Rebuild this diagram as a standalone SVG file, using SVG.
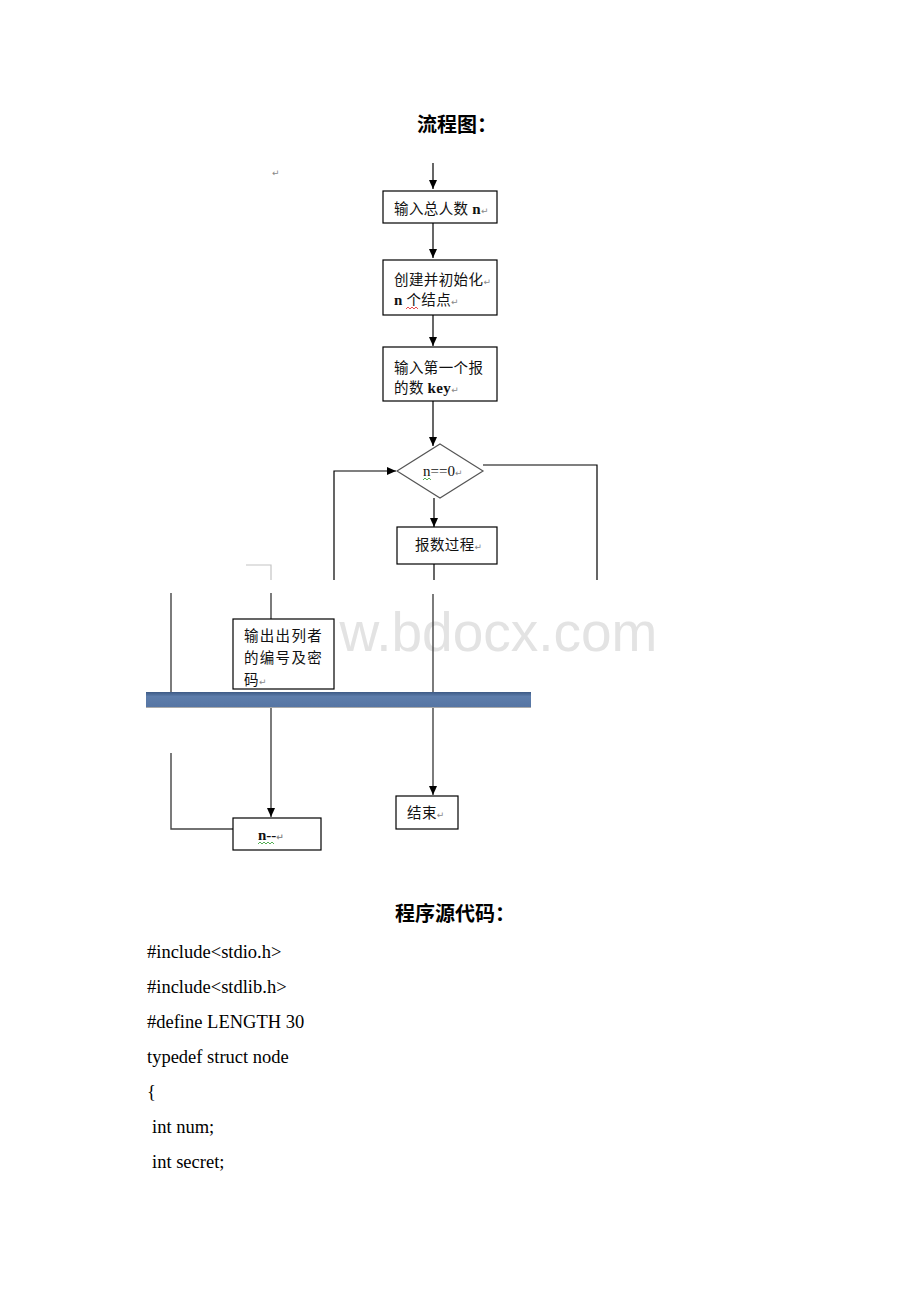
<svg xmlns="http://www.w3.org/2000/svg" width="920" height="1302" viewBox="0 0 920 1302">
<style>
.box{fill:#fff;stroke:#000;stroke-width:1.2}
.cn{font-family:"Noto Sans CJK SC","Noto Sans",sans-serif;font-size:14.5px;fill:#111;letter-spacing:0.4px}
.sr{font-family:"Liberation Serif",serif;font-weight:bold;font-size:15px;fill:#111}
.rt{font-family:"DejaVu Sans",sans-serif;font-size:9px;fill:#888}
.ln{fill:none;stroke:#000;stroke-width:1.2}
.lg{fill:none;stroke:#444;stroke-width:1.4}
.ttl{font-family:"Noto Sans CJK SC",sans-serif;font-size:20px;font-weight:bold;fill:#000}
.code{font-family:"Liberation Serif",serif;font-size:18.5px;fill:#000}
.wv{fill:none;stroke-width:0.8}
</style>
<defs>
<marker id="ah" viewBox="0 0 9 8" refX="9" refY="4" markerWidth="9" markerHeight="8" markerUnits="userSpaceOnUse" orient="auto">
<path d="M0,0 L9,4 L0,8 z" fill="#000"/>
</marker>
<linearGradient id="bar" x1="0" y1="0" x2="0" y2="1">
<stop offset="0" stop-color="#3d5a85"/>
<stop offset="0.3" stop-color="#5d7dab"/>
<stop offset="1" stop-color="#5675a3"/>
</linearGradient>
</defs>
<rect width="920" height="1302" fill="#fff"/>
<text x="417" y="132" class="ttl">流程图：</text>
<text x="272" y="176" class="rt">↵</text>
<text x="339.5" y="651" font-family="Liberation Sans, Arial, sans-serif" font-size="55" fill="#e3e3e3">w.bdocx.com</text>
<g id="connectors">
<line class="ln" x1="433" y1="163" x2="433" y2="189" marker-end="url(#ah)"/>
<line class="ln" x1="433" y1="223" x2="433" y2="258" marker-end="url(#ah)"/>
<line class="ln" x1="433" y1="315" x2="433" y2="346" marker-end="url(#ah)"/>
<line class="ln" x1="433" y1="401" x2="433" y2="446" marker-end="url(#ah)"/>
<line class="ln" x1="434" y1="498" x2="434" y2="527" marker-end="url(#ah)"/>
<line class="ln" x1="434" y1="564" x2="434" y2="580"/>
<polyline class="ln" points="334,580 334,471 396,471" marker-end="url(#ah)"/>
<polyline class="ln" points="483,465 597,465 597,580"/>
<polyline fill="none" stroke="#c4c4c4" stroke-width="1.2" points="246,565 271,565 271,580"/>
<line class="lg" x1="171" y1="593" x2="171" y2="692"/>
<line class="lg" x1="271" y1="593" x2="271" y2="619"/>
<line class="lg" x1="433" y1="594" x2="433" y2="692"/>
<line class="lg" x1="271" y1="708" x2="271" y2="817" marker-end="url(#ah)"/>
<line class="lg" x1="433" y1="708" x2="433" y2="795" marker-end="url(#ah)"/>
<polyline class="lg" points="171,753 171,829 233,829"/>
</g>
<g id="n1">
<rect class="box" x="383" y="191" width="114" height="32"/>
<text x="394" y="214" class="cn">输入总人数 <tspan class="sr">n</tspan><tspan class="rt">↵</tspan></text>
</g>
<g id="n2">
<rect class="box" x="383" y="260" width="114" height="55"/>
<text x="394" y="285" class="cn">创建并初始化<tspan class="rt">↵</tspan></text>
<text x="394" y="305" class="cn"><tspan class="sr">n</tspan> 个结点<tspan class="rt">↵</tspan></text>
<path class="wv" stroke="#e02020" d="M406,309 l2,-2 l2,2 l2,-2 l2,2 l2,-2 l2,2"/>
</g>
<g id="n3">
<rect class="box" x="383" y="347" width="114" height="54"/>
<text x="394" y="373" class="cn">输入第一个报</text>
<text x="394" y="393" class="cn">的数 <tspan class="sr">key</tspan><tspan class="rt">↵</tspan></text>
</g>
<g id="n4">
<polygon points="440,444 483,471 440,498 397,471" fill="#fff" stroke="#555" stroke-width="1.2"/>
<text x="423" y="476" class="sr" style="font-weight:normal">n==0<tspan class="rt">↵</tspan></text>
<path class="wv" stroke="#2a9a2a" d="M423,480 l2,-2 l2,2 l2,-2 l2,2"/>
</g>
<g id="n5">
<rect class="box" x="397" y="527" width="100" height="37"/>
<text x="415" y="550" class="cn">报数过程<tspan class="rt">↵</tspan></text>
</g>
<rect x="146" y="692" width="385" height="15" fill="url(#bar)"/>
<line x1="146" y1="707.5" x2="531" y2="707.5" stroke="#aaa" stroke-width="1"/>
<g id="n6">
<rect class="box" x="233" y="619" width="101" height="70"/>
<text x="244" y="641" class="cn" style="letter-spacing:1.3px">输出出列者</text>
<text x="244" y="663" class="cn" style="letter-spacing:1.3px">的编号及密</text>
<text x="244" y="685" class="cn">码<tspan class="rt">↵</tspan></text>
</g>
<g id="n7">
<rect class="box" x="233" y="818" width="88" height="32"/>
<text x="258" y="840" class="sr">n--<tspan class="rt">↵</tspan></text>
<path class="wv" stroke="#2a9a2a" d="M258,844 l2,-2 l2,2 l2,-2 l2,2 l2,-2 l2,2 l2,-2 l2,2"/>
</g>
<g id="n8">
<rect class="box" x="396" y="796" width="62" height="33"/>
<text x="407" y="818" class="cn">结束<tspan class="rt">↵</tspan></text>
</g>
<text x="395" y="921" class="ttl">程序源代码：</text>
<text x="147" y="958" class="code">#include&lt;stdio.h&gt;</text>
<text x="147" y="993" class="code">#include&lt;stdlib.h&gt;</text>
<text x="147" y="1028" class="code">#define LENGTH 30</text>
<text x="147" y="1063" class="code">typedef struct node</text>
<text x="147" y="1098" class="code">{</text>
<text x="152" y="1133" class="code">int num;</text>
<text x="152" y="1168" class="code">int secret;</text>
</svg>
